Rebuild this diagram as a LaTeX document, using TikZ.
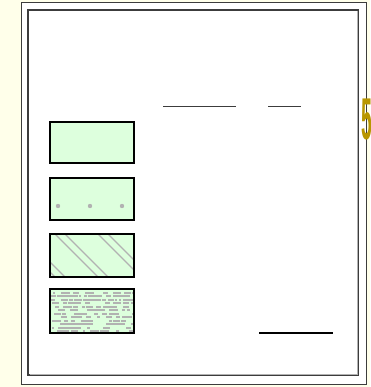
\documentclass[tikz,border=0pt]{standalone}
\usepackage{fontspec}
\setsansfont{Liberation Sans}
\definecolor{bgyellow}{RGB}{255,255,234}
\definecolor{boxgreen}{RGB}{221,255,221}
\definecolor{gold}{RGB}{184,150,0}
\definecolor{framegray}{RGB}{60,60,60}
\definecolor{patgray}{RGB}{178,178,178}
\tikzset{
  frameline/.style={draw=framegray,line width=1pt},
  legendbox/.style={draw=black,line width=1.6pt,fill=boxgreen},
  thinrule/.style={draw=framegray,line width=0.9pt},
  thickrule/.style={draw=black,line width=2pt},
  hatchline/.style={draw=patgray,line width=1.3pt},
}
\begin{document}
\begin{tikzpicture}[x=1pt,y=-1pt]
\useasboundingbox (0,0) rectangle (370,387);
\clip (0,0) rectangle (370,387);
\fill[bgyellow] (0,0) rectangle (370,387);
% window frames
\path[fill=white,frameline] (21,3) rectangle (366,384);
\path[frameline,line width=1.3pt] (28,10) rectangle (358,375);
\draw[draw=patgray,line width=0.8pt] (29.5,374) -- (357,374) -- (357,11.5);
% golden glyph at right edge
\node[anchor=base west,inner sep=0pt,text=gold,font=\sffamily\bfseries\fontsize{59}{59}\selectfont] (five) at (361,140) {\scalebox{0.33}[1]{5}};
% rules
\coordinate (r1a) at (163,106); \coordinate (r1b) at (236,106);
\coordinate (r2a) at (268,106); \coordinate (r2b) at (301,106);
\coordinate (r3a) at (259,333); \coordinate (r3b) at (333,333);
\draw[thinrule] (r1a) -- (r1b);
\draw[thinrule] (r2a) -- (r2b);
\draw[thickrule] (r3a) -- (r3b);
% box 1 plain
\path[legendbox] (50,122) rectangle (134,163);
% box 2 dots
\path[legendbox] (50,178) rectangle (134,220);
\foreach \x in {58,90,122} \fill[patgray] (\x,206) circle (2.2);
% box 3 hatch
\fill[boxgreen] (50,234) rectangle (134,277);
\begin{scope}
\clip (50,234) rectangle (134,277);
\foreach \s in {12,22,55,65,98,108} \draw[hatchline] (\s,234) -- ++(50,50);
\end{scope}
\draw[black,line width=1.6pt] (50,234) rectangle (134,277);
% box 4 stipple
\fill[boxgreen] (50,289) rectangle (134,333);
\begin{scope}
\clip (51,290) rectangle (133,332);
\pgfmathsetseed{7}
\foreach \i in {1,...,230} {
  \pgfmathsetmacro{\px}{51+81*rnd}
  \pgfmathsetmacro{\py}{291.5+3.5*floor(12*rnd)}
  \pgfmathsetmacro{\pw}{2+4*rnd}
  \fill[patgray] (\px,\py) rectangle ++(\pw,2.2);
}
\end{scope}
\draw[black,line width=1.6pt] (50,289) rectangle (134,333);
\end{tikzpicture}
\end{document}
